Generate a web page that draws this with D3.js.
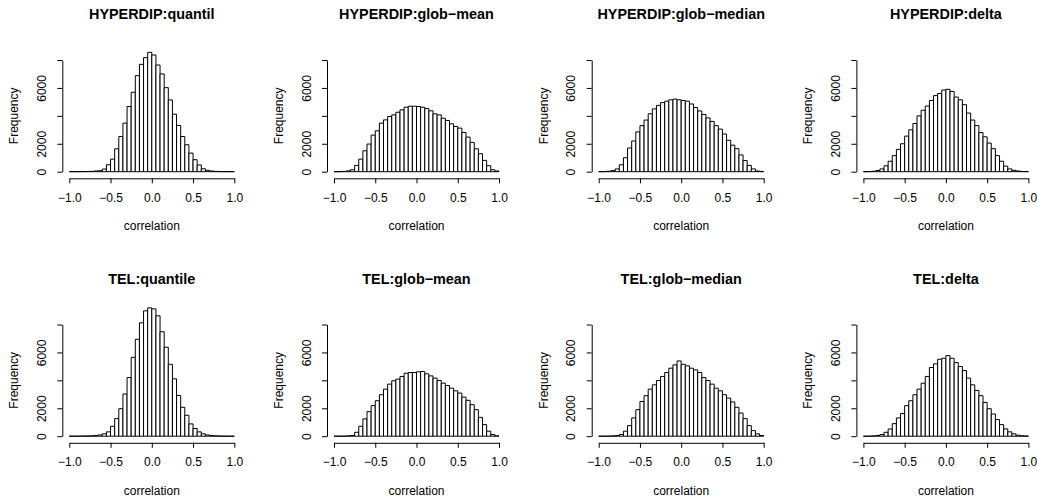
<!DOCTYPE html>
<html>
<head>
<meta charset="utf-8">
<script src="https://cdn.jsdelivr.net/npm/d3@7"></script>
<style>
  body { margin: 0; background: #fff; }
  text { font-family: "Liberation Sans", Arial, Helvetica, sans-serif; fill: #000; }
  .title { font-weight: bold; font-size: 14.4px; }
  .lab { font-size: 12px; }
  .axis text { font-size: 12px; font-family: "Liberation Sans", Arial, sans-serif; }
  .axis path, .axis line { stroke: #000; stroke-width: 1; }
  .bar { fill: #fff; stroke: #000; stroke-width: 1; }
</style>
</head>
<body>
<div id="chart"></div>
<script>
const breaks = [-1, -0.95, -0.9, -0.85, -0.8, -0.75, -0.7, -0.65, -0.6, -0.55, -0.5,
  -0.45, -0.4, -0.35, -0.3, -0.25, -0.2, -0.15, -0.1, -0.05, 0,
  0.05, 0.1, 0.15, 0.2, 0.25, 0.3, 0.35, 0.4, 0.45, 0.5,
  0.55, 0.6, 0.65, 0.7, 0.75, 0.8, 0.85, 0.9, 0.95, 1]

const titles = ['HYPERDIP:quantil', 'HYPERDIP:glob\u2212mean', 'HYPERDIP:glob\u2212median', 'HYPERDIP:delta',
  'TEL:quantile', 'TEL:glob\u2212mean', 'TEL:glob\u2212median', 'TEL:delta']

const hypQuantil = [5, 5, 5, 10, 15, 25, 50, 70, 190, 500, 900, 1640, 2520, 3480, 4670, 5690, 6880, 7690, 8170, 8550,
  8360, 7640, 7000, 6020, 5140, 4120, 3310, 2520, 1930, 1330, 860, 480, 210, 100, 50, 25, 10, 5, 5, 5]
const hypGlobMean = [0, 5, 20, 60, 140, 450, 900, 1500, 1980, 2620, 2930, 3480, 3710, 3950, 4070, 4260, 4430, 4620, 4690, 4690,
  4670, 4620, 4520, 4360, 4140, 4070, 3830, 3670, 3430, 3240, 3120, 2810, 2480, 2100, 1640, 1290, 810, 430, 140, 50]
const hypGlobMedian = [0, 10, 30, 80, 200, 500, 1000, 1700, 2200, 2850, 3300, 3700, 4150, 4500, 4750, 4950, 5050, 5150, 5200, 5150,
  5100, 5050, 4850, 4600, 4350, 4100, 3850, 3600, 3300, 3050, 2700, 2250, 1900, 1650, 1200, 800, 450, 200, 50, 20]
const hypDelta = [0, 10, 30, 80, 200, 420, 750, 1150, 1600, 2000, 2550, 3000, 3450, 4000, 4400, 4700, 5100, 5450, 5600, 5850,
  5900, 5750, 5350, 5150, 4800, 4200, 3700, 3300, 2800, 2500, 2050, 1650, 1150, 750, 400, 200, 100, 50, 20, 10]
const telQuantile = [0, 0, 5, 10, 15, 25, 50, 90, 170, 310, 710, 1260, 1970, 3020, 4200, 5650, 6940, 8120, 8980, 9190,
  9120, 8620, 7480, 6370, 5150, 4110, 2920, 2070, 1500, 880, 550, 310, 170, 90, 50, 25, 10, 5, 0, 0]
const telGlobMean = [0, 0, 5, 20, 50, 280, 710, 1240, 1760, 2190, 2540, 2970, 3370, 3730, 3970, 4090, 4280, 4510, 4560, 4560,
  4610, 4630, 4470, 4320, 4160, 3990, 3800, 3630, 3440, 3250, 3090, 2800, 2570, 2260, 1900, 1350, 830, 360, 120, 20]
const telGlobMedian = [0, 0, 5, 20, 50, 120, 360, 760, 1310, 1900, 2490, 2900, 3370, 3680, 3990, 4280, 4560, 4870, 5110, 5390,
  5150, 5040, 4870, 4750, 4560, 4200, 3990, 3730, 3440, 3250, 2970, 2730, 2450, 2070, 1660, 1260, 760, 400, 170, 50]
const telDelta = [0, 0, 20, 50, 120, 280, 520, 900, 1310, 1620, 2190, 2540, 2970, 3370, 3800, 4280, 4920, 5180, 5510, 5580,
  5770, 5580, 5270, 4990, 4700, 4160, 3680, 3280, 2900, 2420, 1970, 1590, 1190, 830, 520, 310, 170, 70, 30, 10]

const xTicks = [-1, -0.5, 0, 0.5, 1]
const yTicks = [0, 2000, 4000, 6000, 8000]
const yTickLabels = [0, 2000, 6000]

const series = [hypQuantil, hypGlobMean, hypGlobMedian, hypDelta, telQuantile, telGlobMean, telGlobMedian, telDelta]

const width = 1037
const height = 503
const colStep = 264.7
const rowStep = 264.5

const svg = d3.select('#chart').append('svg')
  .attr('width', width)
  .attr('height', height)

const fmtX = d => d3.format('.1f')(d).replace('-', '\u2212')

series.forEach((counts, k) => {
  const col = k % 4
  const row = Math.floor(k / 4)
  const g = svg.append('g')
    .attr('transform', `translate(${col * colStep},${row * rowStep})`)

  const x = d3.scaleLinear().domain([-1, 1]).range([69.3, 234.3])
  const y = d3.scaleLinear().domain([0, 8000]).range([171.7, 60])

  const bins = counts.map((c, i) => ({ x0: breaks[i], x1: breaks[i + 1], n: c }))

  // paths instead of rects so empty bins still show as a line on the baseline
  g.append('g')
    .selectAll('path')
    .data(bins)
    .join('path')
    .attr('class', 'bar')
    .attr('d', d => `M${x(d.x0)},${y(0)}V${y(d.n)}H${x(d.x1)}V${y(0)}Z`)

  g.append('g')
    .attr('class', 'axis')
    .attr('transform', 'translate(0,178.3)')
    .call(d3.axisBottom(x).tickValues(xTicks).tickFormat(fmtX).tickSize(5).tickSizeOuter(0).tickPadding(10))
    .call(a => a.selectAll('text').attr('fill', '#000'))

  g.append('g')
    .attr('class', 'axis')
    .attr('transform', 'translate(62.3,0)')
    .call(d3.axisLeft(y).tickValues(yTicks)
      .tickFormat(d => yTickLabels.includes(d) ? d : '')
      .tickSize(5).tickSizeOuter(0))
    .call(a => a.selectAll('.tick text')
      .attr('fill', '#000')
      .attr('transform', 'rotate(-90)')
      .attr('x', 0)
      .attr('y', -20.6)
      .attr('dy', '0.35em')
      .attr('text-anchor', 'middle'))

  g.append('text')
    .attr('class', 'title')
    .attr('x', x(0))
    .attr('y', 19)
    .attr('text-anchor', 'middle')
    .text(titles[k])

  g.append('text')
    .attr('class', 'lab')
    .attr('x', x(0))
    .attr('y', 230)
    .attr('text-anchor', 'middle')
    .text('correlation')

  g.append('text')
    .attr('class', 'lab')
    .attr('transform', `translate(14,${y(4000)}) rotate(-90)`)
    .attr('dy', '0.35em')
    .attr('text-anchor', 'middle')
    .text('Frequency')
})
</script>
</body>
</html>
